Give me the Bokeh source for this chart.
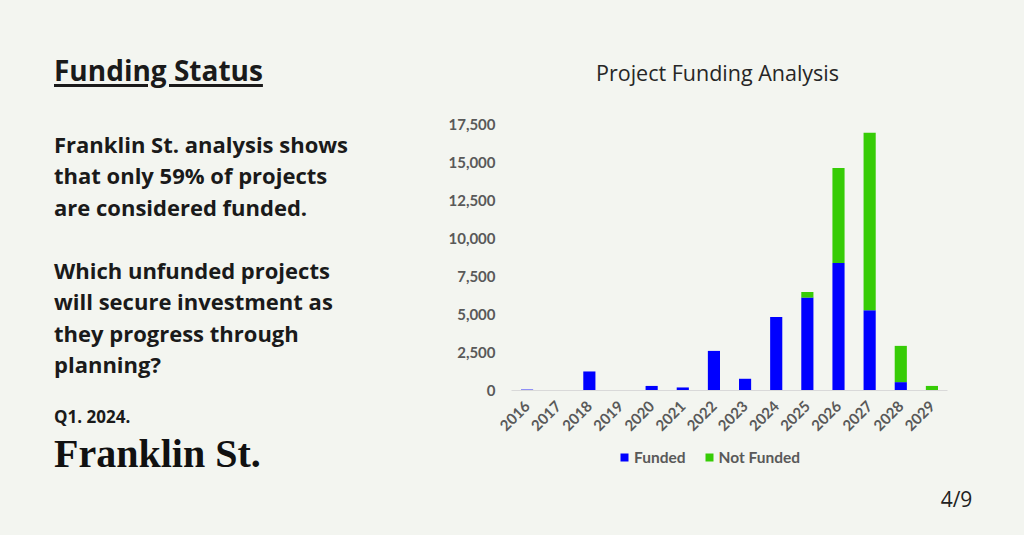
import math
from bokeh.plotting import figure
from bokeh.layouts import row
from bokeh.models import (ColumnDataSource, Range1d, FactorRange, FixedTicker, NumeralTickFormatter,
                          Legend, LegendItem, Label, Div)
from bokeh.embed import file_html
from bokeh.resources import INLINE

# ---- data ----
years = ["2016", "2017", "2018", "2019", "2020", "2021", "2022",
         "2023", "2024", "2025", "2026", "2027", "2028", "2029"]
funded = [60, 0, 1250, 0, 300, 200, 2600, 770, 4830, 6100, 8380, 5270, 550, 0]
not_funded = [0, 0, 0, 0, 0, 0, 0, 0, 0, 370, 6230, 11650, 2380, 300]
y_ticks = [0, 2500, 5000, 7500, 10000, 12500, 15000, 17500]
series_names = ["Funded", "Not Funded"]

heading = "Funding Status"
para = ["Franklin St. analysis shows", "that only 59% of projects", "are considered funded.",
        "Which unfunded projects", "will secure investment as", "they progress through", "planning?"]
date_text = "Q1. 2024."
brand = "Franklin St."
chart_title = "Project Funding Analysis"
page_no = "4/9"

BG = "#f3f5f0"
BLUE = "#0000ff"
GREEN = "#36cc06"
GREY = "#595959"
INK = "#1a1a1a"

W, H = 1024, 535
LW = 434                      # left text column width
PLOT_L, PLOT_R = 511, 947     # category span on the page
PLOT_Y0, PLOT_Y1 = 390, 123.5 # pixel rows of 0 and 17,500

# ---- left text panel (HTML text) ----
def line(txt, top, size, weight=700, family="'Open Sans'", extra=""):
    return ('<div style="position:absolute;left:54px;top:%.1fpx;font-family:%s;font-size:%spx;'
            'font-weight:%d;line-height:1;white-space:nowrap;color:%s;%s">%s</div>'
            % (top, family, size, weight, INK, extra, txt))

OS_BASE = 0.888   # Open Sans baseline offset at line-height:1
LS_BASE = 0.8375  # Liberation Serif baseline offset at line-height:1
parts = []
parts.append(line(heading, 81 - OS_BASE * 28, 28,
                  extra="text-decoration:underline;text-decoration-thickness:2.5px;"
                        "text-underline-offset:3px;"))
para_base = [152, 183.5, 215, 278.3, 309.5, 341, 372.7]
for t, b in zip(para, para_base):
    parts.append(line(t, b - OS_BASE * 22, 22))
parts.append(line(date_text, 423.3 - OS_BASE * 17, 17))
parts.append(line(brand, 467 - LS_BASE * 40, 40, family="'Liberation Serif'", extra="color:#111;"))
html_left = ('<div style="position:relative;width:%dpx;height:%dpx;background:%s;">%s</div>'
             % (LW, H, BG, "".join(parts)))
left = Div(text=html_left, width=LW, height=H, margin=0)

# ---- chart ----
RW = W - LW
px_per_cat = (PLOT_R - PLOT_L) / len(years)
pad_cats = (PLOT_L - LW) / px_per_cat
val_per_px = y_ticks[-1] / (PLOT_Y0 - PLOT_Y1)
y_top = PLOT_Y0 * val_per_px
y_bot = -(H - PLOT_Y0) * val_per_px

src = ColumnDataSource(dict(year=years, funded=funded, not_funded=not_funded))
p = figure(width=RW, height=H,
           x_range=FactorRange(factors=years, range_padding=pad_cats, range_padding_units="absolute"),
           y_range=Range1d(y_bot, y_top),
           toolbar_location=None, output_backend="svg", min_border=0)
p.background_fill_color = BG
p.border_fill_color = BG
p.outline_line_color = None
p.grid.visible = False

rs = p.vbar_stack(["funded", "not_funded"], x="year", width=0.39, source=src,
                  color=[BLUE, GREEN], line_color=None)

p.yaxis.fixed_location = 0
p.yaxis.ticker = FixedTicker(ticks=y_ticks)
p.yaxis.formatter = NumeralTickFormatter(format="0,0")
p.yaxis.axis_line_color = None
p.yaxis.major_tick_line_color = None
p.yaxis.major_tick_out = 0
p.yaxis.minor_tick_line_color = None
p.yaxis.major_label_standoff = 16
p.yaxis.major_label_text_font = "Lato"
p.yaxis.major_label_text_font_style = "bold"
p.yaxis.major_label_text_font_size = "15px"
p.yaxis.major_label_text_color = GREY

p.xaxis.fixed_location = 0
p.xaxis.bounds = (0, len(years))
p.xaxis.axis_line_color = "#d9d9d9"
p.xaxis.axis_line_width = 1.2
p.xaxis.major_tick_line_color = None
p.xaxis.major_tick_out = 0
p.xaxis.minor_tick_line_color = None
p.xaxis.major_label_orientation = math.pi / 4
p.xaxis.major_label_standoff = 13
p.xaxis.major_label_text_font = "Lato"
p.xaxis.major_label_text_font_style = "bold"
p.xaxis.major_label_text_font_size = "15px"
p.xaxis.major_label_text_color = GREY

legend = Legend(items=[LegendItem(label=series_names[0], renderers=[rs[0]]),
                       LegendItem(label=series_names[1], renderers=[rs[1]])],
                orientation="horizontal", location=(619 - LW, H - 466),
                background_fill_alpha=0, border_line_color=None,
                margin=0, padding=0, spacing=18, label_standoff=5,
                glyph_width=10, glyph_height=10, label_height=16,
                label_text_font="Lato", label_text_font_style="bold",
                label_text_font_size="15.5px", label_text_color=GREY)
p.add_layout(legend)

p.add_layout(Label(x=717 - LW, y=H - 72, x_units="screen", y_units="screen",
                   text=chart_title, text_align="center", text_baseline="middle",
                   text_font="Open Sans", text_font_size="21.5px", text_color="#262626"))
p.add_layout(Label(x=956 - LW, y=H - 498, x_units="screen", y_units="screen",
                   text=page_no, text_align="center", text_baseline="middle",
                   text_font="Open Sans", text_font_size="21px", text_color="#222222"))

layout = row(left, p)
html = file_html(layout, INLINE)
html = html.replace("</head>", "<style>html,body{background:%s;}</style></head>" % BG, 1)
open("out.html", "w").write(html)
